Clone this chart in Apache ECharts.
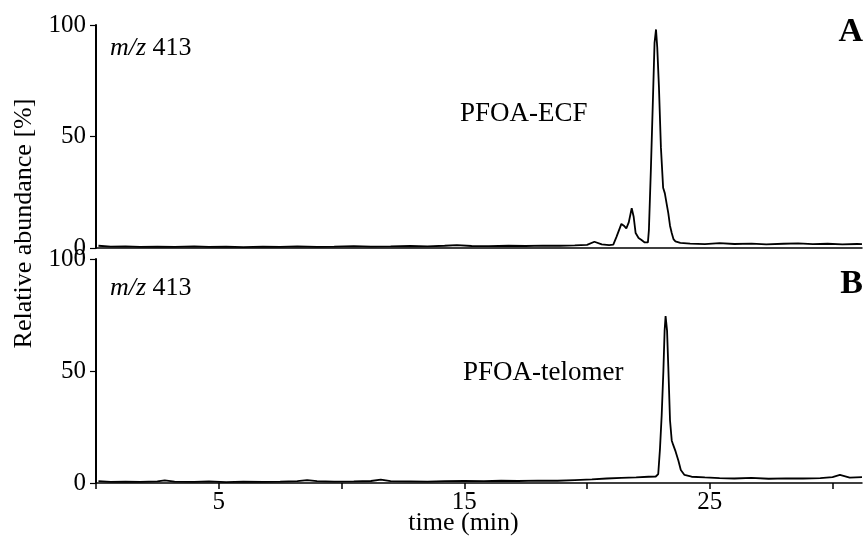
<!DOCTYPE html>
<html><head><meta charset="utf-8">
<script src="https://cdn.jsdelivr.net/npm/echarts@6/dist/echarts.min.js"></script>
<style>html,body{margin:0;padding:0;background:#fff}#c{width:866px;height:538px}</style>
</head><body><div id="c"></div>
<script>
// Panel A (PFOA-ECF), time in min and relative abundance in %
const timeA = [0.1, 0.6, 1.2, 1.8, 2.5, 3.2, 4.0, 4.6, 5.3, 6.0,
  6.8, 7.5, 8.2, 9.0, 9.7, 10.5, 11.2, 12.0, 12.8, 13.5,
  14.2, 14.7, 15.3, 16.0, 16.8, 17.5, 18.2, 18.9, 19.5, 20.0,
  20.3, 20.6, 20.9, 21.07, 21.2, 21.4, 21.5, 21.6, 21.7, 21.82,
  21.9, 21.98, 22.1, 22.22, 22.35, 22.43, 22.48, 22.52, 22.6, 22.68,
  22.75, 22.81, 22.86, 22.93, 23.01, 23.1, 23.17, 23.24, 23.31, 23.38,
  23.45, 23.52, 23.6, 23.8, 24.2, 24.8, 25.4, 26.0, 26.7, 27.3,
  28.0, 28.6, 29.2, 29.8, 30.4, 31.0, 31.2];
const abundanceA = [1.0, 0.6, 0.7, 0.5, 0.6, 0.5, 0.7, 0.5, 0.6, 0.4,
  0.6, 0.5, 0.7, 0.5, 0.6, 0.8, 0.6, 0.7, 0.9, 0.7,
  1.0, 1.3, 0.9, 0.8, 1.0, 0.9, 1.1, 1.0, 1.2, 1.4,
  2.8, 1.6, 1.3, 1.5, 5.0, 10.8, 10.0, 8.8, 11.5, 17.8,
  14.0, 6.7, 4.5, 3.6, 2.5, 1.8, 2.5, 8, 35, 65,
  92, 98, 90, 72, 45, 27, 24.5, 20, 15.6, 10,
  6.7, 4, 3, 2.3, 2.0, 1.7, 2.2, 1.8, 2.0, 1.6,
  1.9, 2.1, 1.7, 1.9, 1.6, 1.8, 1.7];
// Panel B (PFOA-telomer)
const timeB = [0.1, 0.6, 1.2, 1.8, 2.5, 2.8, 3.2, 4.0, 4.6, 5.3,
  6.0, 6.8, 7.5, 8.2, 8.6, 9.0, 9.7, 10.5, 11.2, 11.6,
  12.0, 12.8, 13.5, 14.2, 15.0, 15.8, 16.5, 17.2, 18.0, 18.8,
  19.5, 20.2, 20.8, 21.4, 22.0, 22.5, 22.8, 22.9, 22.97, 23.04,
  23.11, 23.16, 23.2, 23.26, 23.31, 23.38, 23.45, 23.51, 23.61, 23.72,
  23.82, 23.97, 24.26, 24.8, 25.4, 26.0, 26.7, 27.4, 28.1, 28.8,
  29.5, 30.0, 30.3, 30.7, 31.2];
const abundanceB = [0.8, 0.5, 0.6, 0.5, 0.7, 1.2, 0.6, 0.5, 0.7, 0.4,
  0.6, 0.5, 0.6, 0.8, 1.3, 0.8, 0.6, 0.7, 0.9, 1.5,
  0.8, 0.7, 0.6, 0.8, 0.9, 0.8, 1.0, 0.9, 1.1, 1.0,
  1.3, 1.6, 2.0, 2.3, 2.5, 2.8, 2.9, 4.0, 15, 30,
  50, 68, 74.5, 68, 52, 28, 19, 17, 14, 10,
  5.8, 3.6, 2.8, 2.5, 2.2, 2.0, 2.3, 1.9, 2.1, 2.0,
  2.2, 2.6, 3.6, 2.4, 2.6];
const xTickValues = [0, 5, 10, 15, 20, 25, 30];
const xLabelValues = [5, 15, 25];
const yTickValues = [0, 50, 100];

const FONT = "'Liberation Serif', 'DejaVu Serif', serif";
const chart = echarts.init(document.getElementById('c'), null, {renderer: 'canvas'});

function yAxisFor(i) {
  return {
    gridIndex: i, type: 'value', min: 0, max: 100, interval: 50,
    axisLine: {show: true, lineStyle: {color: '#000', width: 2}},
    axisTick: {show: true, length: 6, lineStyle: {color: '#000', width: 1.2}},
    axisLabel: {show: true, color: '#000', fontFamily: FONT, fontSize: 25, margin: 10,
      formatter: v => yTickValues.includes(v) ? String(v) : ''},
    splitLine: {show: false}
  };
}

const option = {
  animation: false,
  backgroundColor: '#fff',
  grid: [
    {left: 96, right: 4, top: 25, height: 223},
    {left: 96, right: 4, top: 259, height: 224}
  ],
  xAxis: [
    {gridIndex: 0, type: 'value', min: 0, max: 31.2, interval: 5,
      axisLine: {show: true, onZero: false, lineStyle: {color: '#000', width: 1.5}},
      axisTick: {show: false}, axisLabel: {show: false}, splitLine: {show: false}},
    {gridIndex: 1, type: 'value', min: 0, max: 31.2, interval: 5,
      axisLine: {show: true, onZero: false, lineStyle: {color: '#000', width: 1.5}},
      axisTick: {show: true, length: 6, customValues: xTickValues, lineStyle: {color: '#000', width: 1.5}},
      axisLabel: {show: true, customValues: xLabelValues, color: '#000', fontFamily: FONT, fontSize: 25, margin: 7,
        formatter: v => xLabelValues.includes(v) ? String(v) : ''},
      splitLine: {show: false}}
  ],
  yAxis: [yAxisFor(0), yAxisFor(1)],
  series: [
    {type: 'line', xAxisIndex: 0, yAxisIndex: 0, showSymbol: false, smooth: false,
      lineStyle: {color: '#000', width: 1.8},
      data: timeA.map((t, i) => [t, abundanceA[i]])},
    {type: 'line', xAxisIndex: 1, yAxisIndex: 1, showSymbol: false, smooth: false,
      lineStyle: {color: '#000', width: 1.8},
      data: timeB.map((t, i) => [t, abundanceB[i]])}
  ],
  graphic: [
    {type: 'text', left: 110, top: 35.5, style: {
      text: '{i|m/z} 413', fill: '#000', font: "26px " + FONT, verticalAlign: 'middle',
      rich: {i: {fontStyle: 'italic', fontFamily: FONT, fontSize: 26, fill: '#000'}}}},
    {type: 'text', left: 110, top: 275, style: {
      text: '{i|m/z} 413', fill: '#000', font: "26px " + FONT, verticalAlign: 'middle',
      rich: {i: {fontStyle: 'italic', fontFamily: FONT, fontSize: 26, fill: '#000'}}}},
    {type: 'text', x: 863, y: 32.5, style: {text: 'A', fill: '#000', font: "bold 34px " + FONT, align: 'right', verticalAlign: 'middle'}},
    {type: 'text', x: 863, y: 284.5, style: {text: 'B', fill: '#000', font: "bold 34px " + FONT, align: 'right', verticalAlign: 'middle'}},
    {type: 'text', x: 460, y: 114, style: {text: 'PFOA-ECF', fill: '#000', font: "27px " + FONT, verticalAlign: 'middle'}},
    {type: 'text', x: 463, y: 373, style: {text: 'PFOA-telomer', fill: '#000', font: "27px " + FONT, verticalAlign: 'middle'}},
    {type: 'text', x: 463.5, y: 523, style: {text: 'time (min)', fill: '#000', font: "26px " + FONT, align: 'center', verticalAlign: 'middle'}},
    {type: 'text', x: 24, y: 223.5, rotation: Math.PI / 2, style: {text: 'Relative abundance [%]', fill: '#000', font: "26px " + FONT, align: 'center', verticalAlign: 'middle'}}
  ]
};
chart.setOption(option);
</script>
</body></html>
